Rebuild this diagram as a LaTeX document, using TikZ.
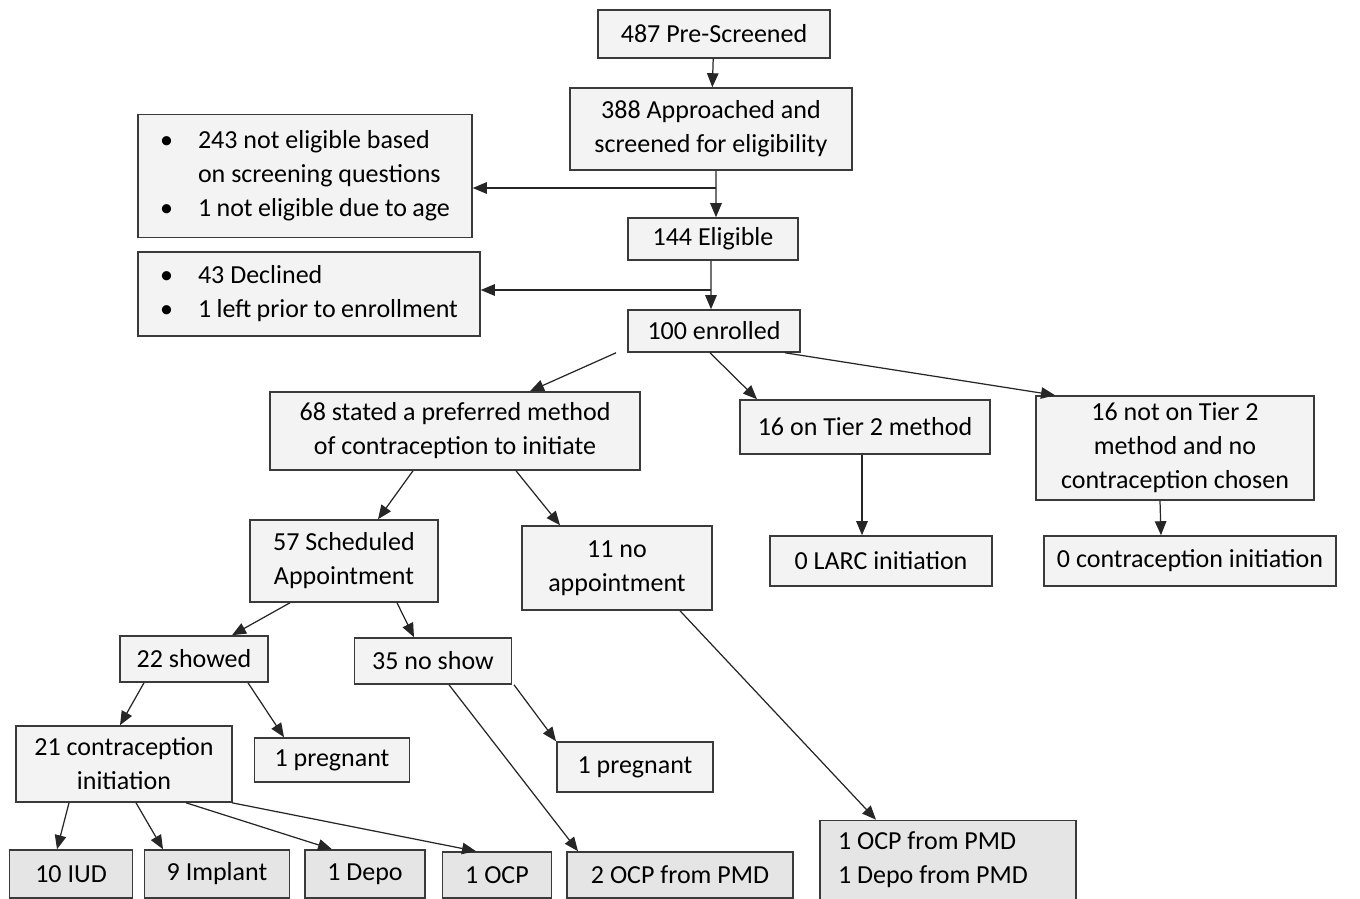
\documentclass[tikz,border=0pt]{standalone}
\usepackage{fontspec}
\setmainfont{Carlito}
\usetikzlibrary{arrows.meta,positioning}
\definecolor{boxfill}{HTML}{F3F3F3}
\definecolor{leaffill}{HTML}{E5E5E5}
\definecolor{boxline}{HTML}{3A3A3A}
\newcommand{\bul}{\makebox[0.76cm][l]{\textbullet}}
\newcommand{\fixsp}{\spaceskip=0pt\relax}

\begin{document}
\begin{tikzpicture}[x=0.02cm, y=-0.02cm,
  box/.style={draw=boxline, line width=0.9pt, fill=boxfill, align=center, inner sep=2pt,
    font=\fontsize{14.8}{19.4}\selectfont},
  leaf/.style={box, fill=leaffill},
  listbox/.style={box, align=left, inner xsep=0.44cm},
  arr/.style={-{Triangle[length=2.8mm,width=2.3mm]}, line width=0.7pt, draw=black!85}
]
\useasboundingbox (0,0) rectangle (1360,899);

% screening
\node[box, minimum width=4.64cm, minimum height=0.96cm] (pre) at (714,34) {487 Pre-Screened};
\node[box, minimum width=5.64cm, minimum height=1.64cm] (appr) at (711,129) {388 Approached and\\screened for eligibility};
\node[listbox, text width=5.8cm, minimum height=2.46cm] (notelig) at (305,176)
  {\fixsp\bul 243 not eligible based\\\hspace*{0.76cm}on screening questions\\\bul 1 not eligible due to age};
\node[box, minimum width=3.4cm, minimum height=0.84cm] (elig) at (713,239) {144 Eligible};
\node[listbox, text width=5.96cm, minimum height=1.68cm] (declined) at (309,294)
  {\fixsp\bul 43 Declined\\\bul 1 left prior to enrollment};
\node[box, minimum width=3.44cm, minimum height=0.84cm] (enrolled) at (714,331) {100 enrolled};

% enrolled groups
\node[box, minimum width=7.4cm, minimum height=1.56cm] (pref) at (455,431) {68 stated a preferred method\\of contraception to initiate};
\node[box, minimum width=5.0cm, minimum height=1.08cm] (tier) at (865,427) {16 on Tier 2 method};
\node[box, minimum width=5.56cm, minimum height=2.08cm] (notier) at (1175,448) {16 not on Tier 2\\method and no\\contraception chosen};
\node[box, minimum width=3.76cm, minimum height=1.64cm] (sched) at (344,561) {57 Scheduled\\Appointment};
\node[box, minimum width=3.8cm, minimum height=1.68cm] (noappt) at (617,568) {11 no\\appointment};
\node[box, minimum width=4.44cm, minimum height=1.0cm] (larc) at (881,561) {0 LARC initiation};
\node[box, minimum width=5.84cm, minimum height=1.0cm] (nocontra) at (1190,561) {0 contraception initiation};

% appointments
\node[box, minimum width=2.96cm, minimum height=0.92cm] (showed) at (194,659) {22 showed};
\node[box, minimum width=3.14cm, minimum height=0.92cm] (noshow) at (433,661) {35 no show};
\node[box, minimum width=4.32cm, minimum height=1.52cm] (initiate) at (124,764) {21 contraception\\initiation};
\node[box, minimum width=3.1cm, minimum height=0.88cm] (pregA) at (332,760) {1 pregnant};
\node[box, minimum width=3.12cm, minimum height=1.0cm] (pregB) at (635,767) {1 pregnant};

% methods
\node[leaf, minimum width=2.46cm, minimum height=0.96cm] (iud) at (71,874) {10 IUD};
\node[leaf, minimum width=2.9cm, minimum height=0.96cm] (implant) at (217,874) {9 Implant};
\node[leaf, minimum width=2.4cm, minimum height=0.96cm] (depo) at (365,874) {1 Depo};
\node[leaf, minimum width=2.18cm, minimum height=0.92cm] (ocp) at (497,875) {1 OCP};
\node[leaf, minimum width=4.52cm, minimum height=0.92cm] (ocppmd) at (680,875) {2 OCP from PMD};
\node[leaf, align=left, text width=4.4cm, inner xsep=0.36cm, minimum height=1.58cm] (pmd) at (948,860)
  {\fixsp 1 OCP from PMD\\1 Depo from PMD};

\coordinate (split1) at (716,188);
\coordinate (split2) at (711,290);

\draw[arr] (pre) -- (appr);
\draw[arr] ([xshift=0.1cm]appr.south) -- ([xshift=0.06cm]elig.north);
\draw[arr] (split1) -- (split1 -| notelig.east);
\draw[arr] ([xshift=-0.04cm]elig.south) -- ([xshift=-0.06cm]enrolled.north);
\draw[arr] (split2) -- (split2 -| declined.east);

\draw[arr] ([xshift=-1.96cm]enrolled.south) -- ([xshift=1.5cm]pref.north);
\draw[arr] ([xshift=-0.08cm]enrolled.south) -- ([xshift=-2.16cm]tier.north);
\draw[arr] ([xshift=1.42cm]enrolled.south) -- ([xshift=-2.4cm]notier.north);
\draw[arr] ([xshift=-0.84cm]pref.south) -- ([xshift=0.68cm]sched.north);
\draw[arr] ([xshift=1.22cm]pref.south) -- ([xshift=-1.14cm]noappt.north);
\draw[arr] ([xshift=-0.06cm]tier.south) -- ([xshift=-0.06cm]tier.south |- larc.north);
\draw[arr] ([xshift=-0.3cm]notier.south) -- ([xshift=-0.58cm]nocontra.north);

\draw[arr] ([xshift=-1.08cm]sched.south) -- ([xshift=0.76cm]showed.north);
\draw[arr] ([xshift=1.06cm]sched.south) -- ([xshift=-0.38cm]noshow.north);
\draw[arr] ([xshift=1.26cm]noappt.south) -- ([xshift=-1.44cm]pmd.north);
\draw[arr] ([xshift=-1.0cm]showed.south) -- ([xshift=-0.08cm]initiate.north);
\draw[arr] ([xshift=1.08cm]showed.south) -- ([xshift=-0.96cm]pregA.north);
\draw[arr] ([xshift=0.32cm]noshow.south) -- ([xshift=-2.04cm]ocppmd.north);
\draw[arr] ([xshift=1.62cm]noshow.south) -- ([xshift=-1.58cm]pregB.north);

\draw[arr] ([xshift=-1.1cm]initiate.south) -- ([xshift=-0.28cm]iud.north);
\draw[arr] ([xshift=0.24cm]initiate.south) -- ([xshift=-1.08cm]implant.north);
\draw[arr] ([xshift=1.24cm]initiate.south) -- ([xshift=-0.66cm]depo.north);
\draw[arr] ([xshift=2.16cm]initiate.south) -- ([xshift=-0.42cm]ocp.north);
\end{tikzpicture}
\end{document}
